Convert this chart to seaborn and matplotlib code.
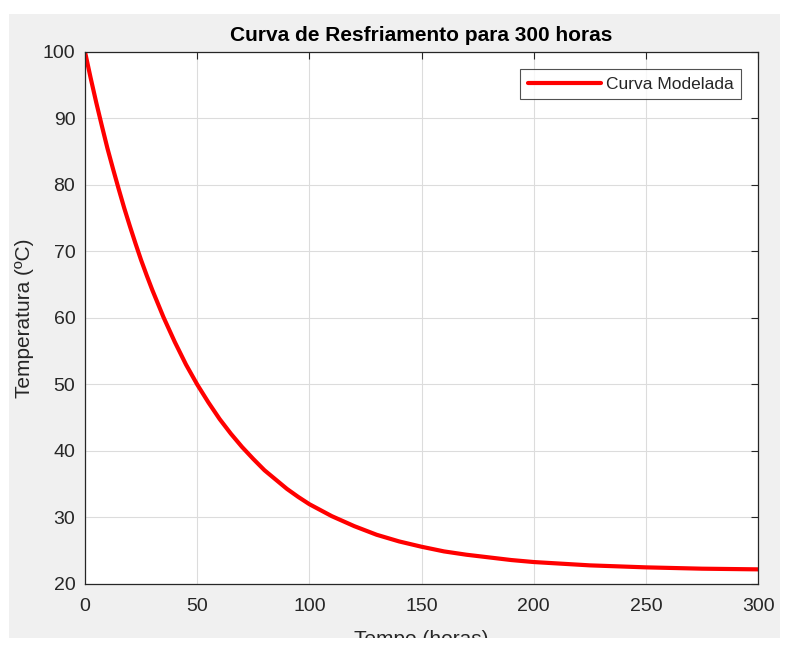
import pandas as pd
import matplotlib.pyplot as plt
import seaborn as sns
from matplotlib.patches import Rectangle

# Curve values
tempo = [0, 2.5, 5, 7.5, 10, 12.5, 15, 17.5, 20, 22.5, 25, 27.5, 30, 35, 40, 45,
         50, 55, 60, 65, 70, 75, 80, 85, 90, 95, 100, 110, 120, 130, 140, 150,
         160, 170, 180, 190, 200, 225, 250, 275, 300]
temperatura = [100.0, 96.1, 92.4, 88.9, 85.5, 82.4, 79.4, 76.5, 73.8, 71.2, 68.7,
               66.4, 64.2, 60.1, 56.4, 53.0, 50.0, 47.3, 44.8, 42.6, 40.6, 38.8,
               37.1, 35.7, 34.3, 33.1, 32.0, 30.2, 28.7, 27.4, 26.4, 25.6, 24.9,
               24.4, 24.0, 23.6, 23.3, 22.8, 22.5, 22.3, 22.2]
x_ticks = [0, 50, 100, 150, 200, 250, 300]
y_ticks = [20, 30, 40, 50, 60, 70, 80, 90, 100]

data = pd.DataFrame({'Tempo': tempo, 'Temperatura': temperatura})

sns.set_style("white")
plt.rcParams['font.family'] = ['Liberation Sans', 'DejaVu Sans']
text_color = '#262626'

fig = plt.figure(figsize=(7.88, 6.45), dpi=100)
fig.patch.set_facecolor('white')
# gray MATLAB-like figure background
fig.patches.append(Rectangle((0.0114, 0.0109), 0.9786, 0.967, transform=fig.transFigure,
                             facecolor='#f0f0f0', edgecolor='none', zorder=-1))

ax = fig.add_axes([0.1079, 0.0946, 0.8541, 0.8248])
sns.lineplot(data=data, x='Tempo', y='Temperatura', ax=ax, color='#ff0000',
             linewidth=3, label='Curva Modelada')
ax.lines[0].set_solid_joinstyle('round')

ax.set_xlim(0, 300)
ax.set_ylim(20, 100)
ax.set_xticks(x_ticks)
ax.set_yticks(y_ticks)
ax.grid(True, color='#dcdcdc', linewidth=0.8)
ax.set_axisbelow(True)
ax.tick_params(direction='in', length=5, width=0.8, top=True, right=True,
               labelsize=14, colors=text_color, labelcolor=text_color)
ax.tick_params(axis='x', pad=10)
ax.tick_params(axis='y', pad=7)
for side in ax.spines.values():
    side.set_color(text_color)
    side.set_linewidth(0.9)

ax.set_title("Curva de Resfriamento para 300 horas", fontsize=15, fontweight='bold',
             color='black', pad=8)
ax.set_xlabel("Tempo (horas)", fontsize=15, color=text_color, labelpad=11)
ax.set_ylabel("Temperatura (ºC)", fontsize=15, color=text_color, labelpad=6)

leg = ax.legend(loc='upper right', fontsize=12.5, frameon=True, fancybox=False,
                handlelength=4.2, borderpad=0.45, handletextpad=0.3,
                bbox_to_anchor=(0.988, 0.985))
leg.get_frame().set_edgecolor(text_color)
leg.get_frame().set_linewidth(0.8)
for t in leg.get_texts():
    t.set_color(text_color)

# white strip at the bottom cuts the x label like in the reference
fig.patches.append(Rectangle((0, 0), 1, 0.0109, transform=fig.transFigure,
                             facecolor='white', edgecolor='none', zorder=10))

plt.savefig('out.png', dpi=100)
